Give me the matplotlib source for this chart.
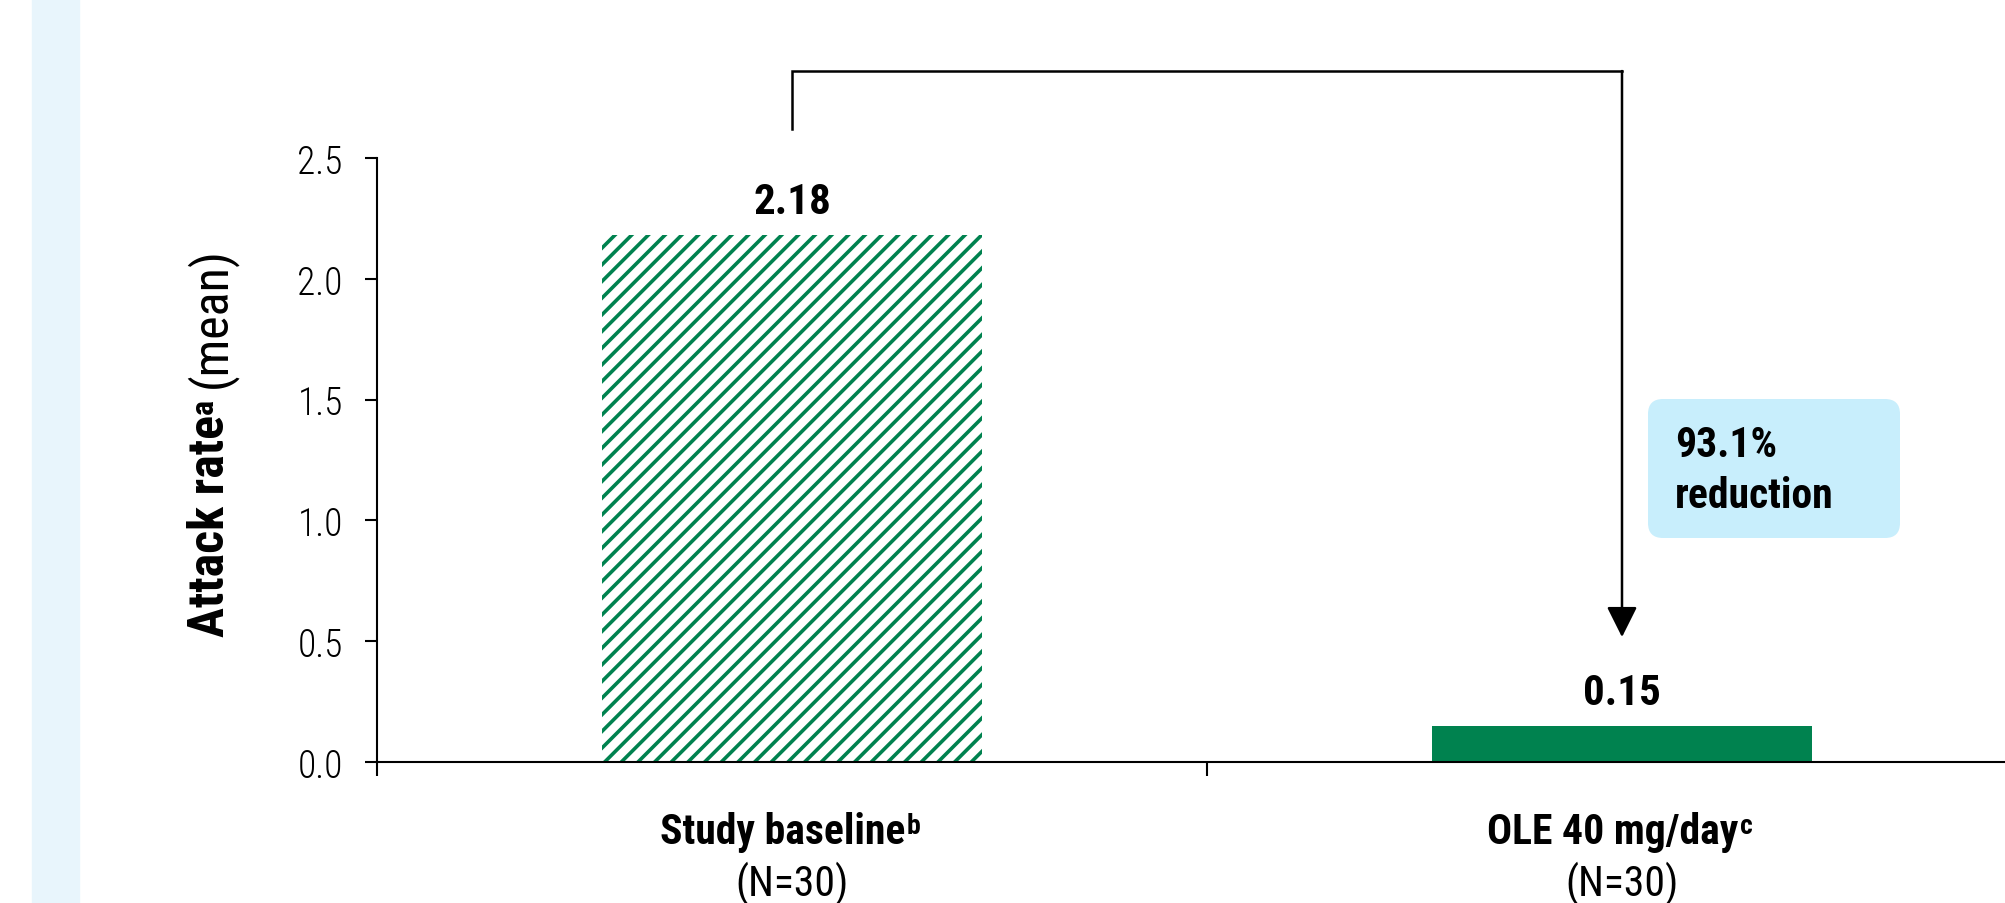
import matplotlib
matplotlib.use("Agg")
import matplotlib.pyplot as plt
from matplotlib import font_manager
from matplotlib.patches import Rectangle, FancyBboxPatch

# dados
categorias = ["Study baseline", "OLE 40 mg/day"]
sobrescritos = ["b", "c"]
n_pacientes = [30, 30]
taxas = [2.18, 0.15]
reducao = "93.1%"
yticks = [0.0, 0.5, 1.0, 1.5, 2.0, 2.5]

nomes = {f.name for f in font_manager.fontManager.ttflist}
fonte = "Roboto"
for cand in ["Roboto Condensed", "Liberation Sans Narrow", "Roboto"]:
    if cand in nomes:
        fonte = cand
        break

plt.rcParams['font.family'] = [fonte, 'DejaVu Sans']
plt.rcParams['hatch.linewidth'] = 2.6

verde = "#00824F"
azul_caixa = "#C8EEFC"

W, H = 2005, 904
fig = plt.figure(figsize=(W / 100, H / 100), dpi=100)
fig.patches.append(Rectangle((32 / W, 0), 47 / W, 1, transform=fig.transFigure,
                             color="#E8F5FC", zorder=0))

ax = fig.add_axes([377 / W, 141 / H, 1660 / W, 604 / H])
ax.set_xlim(-0.5, 1.5)
ax.set_ylim(0, 2.5)

x = [0, 1]
ax.bar(x[0], taxas[0], width=0.457, facecolor="white", edgecolor=verde,
       hatch="//", linewidth=0)
ax.bar(x[1], taxas[1], width=0.457, color=verde)

for xi, v in zip(x, taxas):
    ax.annotate(f"{v:.2f}", (xi, v), xytext=(0, 16), textcoords="offset points",
                ha="center", va="baseline", fontsize=31, fontweight="bold")

for s in ["top", "right"]:
    ax.spines[s].set_visible(False)
for s in ["left", "bottom"]:
    ax.spines[s].set_linewidth(1.5)

ax.set_yticks(yticks)
ax.set_yticklabels([f"{t:.1f}" for t in yticks], fontsize=27, fontweight="light")
ax.tick_params(axis="y", length=8.6, width=1.5, pad=16)

ax.set_xticks([-0.5, 0.5, 1.5])
ax.set_xticklabels([])
ax.tick_params(axis="x", which="major", length=10, width=1.5)

# rótulos das categorias (negrito + sobrescrito + N)
for xi, c, s, n in zip(x, categorias, sobrescritos, n_pacientes):
    t = ax.annotate(c, (xi, H - 844), xycoords=("data", "figure pixels"),
                    xytext=(-9, 0), textcoords="offset pixels",
                    ha="center", va="baseline", fontsize=30, fontweight="bold",
                    annotation_clip=False)
    ax.annotate(s, (1, 1), xycoords=t, xytext=(1, -1), textcoords="offset pixels",
                ha="left", va="top", fontsize=20, fontweight="bold")
    ax.annotate(f"(N={n})", (xi, H - 896), xycoords=("data", "figure pixels"),
                ha="center", va="baseline", fontsize=30, annotation_clip=False)

# rótulo do eixo y
yl = fig.text(211 / W, (H - 637) / H, "Attack rate", rotation=90,
              ha="center", va="bottom", fontsize=36, fontweight="bold")
ax.annotate("a", (0, 1), xycoords=yl, xytext=(1, 1), textcoords="offset pixels",
            rotation=90, ha="left", va="bottom", fontsize=23, fontweight="bold")
ax.annotate("(mean)", (0.5, 1), xycoords=yl, xytext=(0, 27),
            textcoords="offset pixels", rotation=90, ha="center", va="bottom",
            fontsize=36)

# colchete com seta
ax.plot([0, 0, 1], [2.62, 2.86, 2.86], color="black", lw=1.8, clip_on=False,
        solid_joinstyle="miter")
ax.annotate("", xy=(1, 0.517), xytext=(1, 2.86),
            arrowprops=dict(arrowstyle="-|>", color="black", lw=1.8,
                            mutation_scale=47, shrinkA=0, shrinkB=0),
            annotation_clip=False)

caixa = FancyBboxPatch((16.48, 3.65), 2.52, 1.39,
                       boxstyle="round,pad=0,rounding_size=0.15",
                       transform=fig.dpi_scale_trans, facecolor=azul_caixa,
                       edgecolor="none")
fig.patches.append(caixa)
fig.text(16.75, 4.47, reducao, transform=fig.dpi_scale_trans, fontsize=30,
         fontweight="bold", va="baseline")
fig.text(16.75, 3.96, "reduction", transform=fig.dpi_scale_trans, fontsize=30,
         fontweight="bold", va="baseline")

fig.savefig("out.png", dpi=100)
